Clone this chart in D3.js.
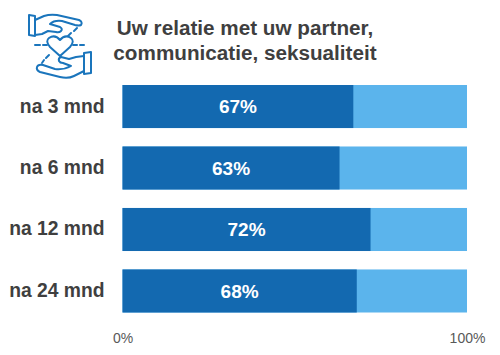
<!DOCTYPE html>
<html>
<head>
<meta charset="utf-8">
<script src="https://cdn.jsdelivr.net/npm/d3@7"></script>
<style>
    html, body { margin: 0; padding: 0; background: #fff; }
    svg { display: block; }
    text { font-family: "Liberation Sans", Arial, sans-serif; }
</style>
</head>
<body>
<svg id="chart"></svg>
<script>
const categories = ["na 3 mnd", "na 6 mnd", "na 12 mnd", "na 24 mnd"];
const values = [67, 63, 72, 68];
const titleLines = ["Uw relatie met uw partner,", "communicatie, seksualiteit"];
const tickValues = [0, 100];

const width = 500, height = 355;
const darkBlue = "#1369b0", lightBlue = "#5bb4ec", textColor = "#3f3f3f";

const svg = d3.select("#chart").attr("width", width).attr("height", height);

const xScale = d3.scaleLinear().domain([0, 100]).range([122.5, 467]);
const yScale = d3.scaleBand().domain(categories).range([85, 312.5]).paddingInner(0.3);

// background bar (100%) then the dark part on top
const rows = svg.append("g").selectAll("g")
    .data(categories)
    .join("g")
    .attr("transform", d => `translate(0, ${yScale(d)})`);

rows.append("rect")
    .attr("x", xScale(0))
    .attr("width", xScale(100) - xScale(0))
    .attr("height", yScale.bandwidth())
    .attr("fill", lightBlue);

rows.append("rect")
    .attr("x", xScale(0))
    .attr("width", (d, i) => xScale(values[i]) - xScale(0))
    .attr("height", yScale.bandwidth())
    .attr("fill", darkBlue);

rows.append("text")
    .attr("x", (d, i) => (xScale(0) + xScale(values[i])) / 2)
    .attr("y", yScale.bandwidth() / 2 + 6.8)
    .attr("text-anchor", "middle")
    .attr("font-size", 19)
    .attr("font-weight", "bold")
    .attr("fill", "#fff")
    .text((d, i) => `${values[i]}%`);

rows.append("text")
    .attr("x", 104.5)
    .attr("y", yScale.bandwidth() / 2 + 6)
    .attr("text-anchor", "end")
    .attr("font-size", 19.3)
    .attr("font-weight", "bold")
    .attr("fill", textColor)
    .text(d => d);

// x axis, only the two labels
const xAxis = svg.append("g")
    .attr("transform", "translate(0, 330)")
    .call(d3.axisBottom(xScale).tickValues(tickValues).tickSize(0).tickFormat(d => `${d}%`));
xAxis.select(".domain").remove();
xAxis.selectAll("text")
    .attr("y", 0)
    .attr("dy", "0.95em")
    .attr("font-size", 14)
    .style("font-family", '"Liberation Sans", Arial, sans-serif')
    .attr("fill", "#595959");

// title
svg.append("g").selectAll("text")
    .data(titleLines)
    .join("text")
    .attr("x", 245)
    .attr("y", (d, i) => 35 + i * 25)
    .attr("text-anchor", "middle")
    .attr("font-size", 20.7)
    .attr("font-weight", "bold")
    .attr("fill", textColor)
    .text(d => d);

// icon: two hands around a heart
const icon = svg.append("g")
    .attr("fill", "none")
    .attr("stroke", "#1a75bc")
    .attr("stroke-width", 2)
    .attr("stroke-linejoin", "round")
    .attr("stroke-linecap", "round");

const iconPaths = [
    "M29 15 L35 16 L35 36 L29 35 Z",
    "M35 20 L44 16 Q50 14 57 15 L79 20 Q83 22 81 25 Q79 26 75 25 L62 21 Q54 20 50 24 L60 27 Q63 29 61 31 Q59 33 56 32 L48 31 L42 34 L35 35",
    "M91 52 L84 53 L84 74 L91 73 Z",
    "M84 56 L76 57 L69 59 L61 57 Q58 58 59 61 Q60 63 63 63 L71 66 Q64 70 55 69 L43 65 Q38 64 37 67 Q36 70 40 72 L60 77 Q68 79 74 76 L84 71",
    "M60 56 L50 47 Q45 41 49 38 Q55 34 60 40 Q65 34 71 38 Q75 41 70 47 Z"
];
icon.selectAll("path").data(iconPaths).join("path").attr("d", d => d);

const iconDashes = [
    [35, 45, 40, 45], [43, 45, 47, 45], [73, 45, 77, 45], [80, 45, 84, 45],
    [68, 36, 71, 33], [74, 31, 77, 28], [49, 55, 46, 58], [44, 60, 42, 63]
];
icon.selectAll("line").data(iconDashes).join("line")
    .attr("x1", d => d[0]).attr("y1", d => d[1])
    .attr("x2", d => d[2]).attr("y2", d => d[3]);
</script>
</body>
</html>
